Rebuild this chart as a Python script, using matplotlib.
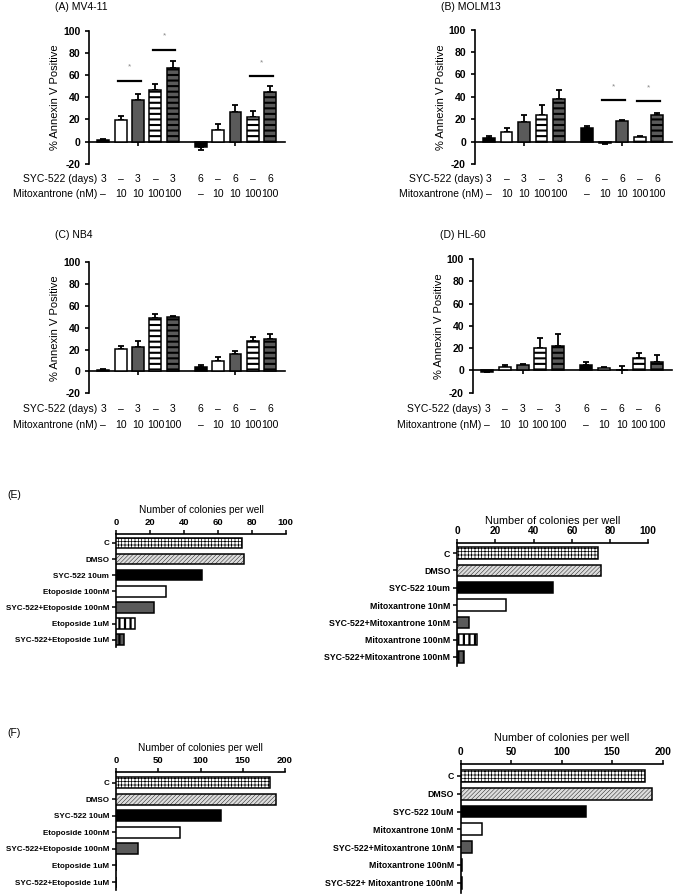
import matplotlib.pyplot as plt
from matplotlib.transforms import blended_transform_factory

plt.rcParams['font.family'] = ['Liberation Sans', 'DejaVu Sans']
plt.rcParams['hatch.linewidth'] = 1.0
plt.rcParams['axes.unicode_minus'] = False

W, H = 674, 896

# Annexin V panels: 10 conditions each
days = ["3", "–", "3", "–", "3", "6", "–", "6", "–", "6"]
mitox = ["–", "10", "10", "100", "100", "–", "10", "10", "100", "100"]

mv4_mean = [1.5, 19.5, 37.5, 46.5, 66, -4.5, 10.5, 27, 22.5, 44.5]
mv4_err = [1, 4, 5, 5, 6.5, 3, 5.5, 6, 5.5, 6]
molm_mean = [3.5, 8.5, 17.5, 24, 38, 12, -1, 18.5, 4, 24]
molm_err = [1.5, 3.5, 6, 8.5, 8, 1.5, 1, 1, 1, 1.5]
nb4_mean = [1.5, 20.5, 22, 49, 49.5, 4.5, 10, 16, 28, 29.5]
nb4_err = [1, 3, 5.5, 3.5, 1.5, 1, 3.5, 3, 3.5, 4.5]
hl60_mean = [-1, 3.5, 4.5, 20.5, 22, 5, 2.5, 0.5, 11, 8]
hl60_err = [0.5, 1, 1.5, 8.5, 11, 3, 1, 3.5, 4.5, 6]

# significance marks: (first bar, last bar, line height)
mv4_sig = [(1, 2, 55), (3, 4, 83), (8, 9, 59)]
molm_sig = [(6, 7, 37), (8, 9, 36)]

# colony assays
eto_labels_e = ["C", "DMSO", "SYC-522 10um", "Etoposide 100nM", "SYC-522+Etoposide 100nM",
                "Etoposide 1uM", "SYC-522+Etoposide 1uM"]
eto_vals_e = [74.5, 75.4, 50.5, 29.3, 22.4, 11.4, 4.5]
mito_labels_e = ["C", "DMSO", "SYC-522 10um", "Mitoxantrone 10nM", "SYC-522+Mitoxantrone 10nM",
                 "Mitoxantrone 100nM", "SYC-522+Mitoxantrone 100nM"]
mito_vals_e = [73.8, 75.2, 50.3, 25.3, 6.3, 10.2, 3.5]
eto_labels_f = ["C", "DMSO", "SYC-522 10uM", "Etoposide 100nM", "SYC-522+Etoposide 100nM",
                "Etoposide 1uM", "SYC-522+Etoposide 1uM"]
eto_vals_f = [182, 189, 124, 75.7, 26.4, 0.5, 0.5]
mito_labels_f = ["C", "DMSO", "SYC-522 10uM", "Mitoxantrone 10nM", "SYC-522+Mitoxantrone 10nM",
                 "Mitoxantrone 100nM", "SYC-522+ Mitoxantrone 100nM"]
mito_vals_f = [182.5, 189.8, 124, 20.8, 11.2, 1, 1]

fig = plt.figure(figsize=(W / 100, H / 100), dpi=100)

DARK = '#5a5a5a'
pos = [0, 1, 2, 3, 4, 5.6, 6.6, 7.6, 8.6, 9.6]


def px_axes(left, top, right, bottom):
    return fig.add_axes([left / W, 1 - bottom / H, (right - left) / W, (bottom - top) / H])


def set_hlw(patches, w):
    for p in patches:
        try:
            p.set_hatch_linewidth(w)
        except AttributeError:
            pass


def annexin(box, means, errs, title, title_xy, rows_y, sig=()):
    ax = px_axes(*box)
    faces = ['black', 'white', DARK, 'white', DARK] * 2
    hatches = ['', '', '', '---', '---'] * 2
    bars = ax.bar(pos, means, width=0.68, color=faces, edgecolor='black',
                  linewidth=1.1, hatch=hatches, zorder=3)
    set_hlw(bars, 1.5)
    lo = [e if m < 0 else 0 for m, e in zip(means, errs)]
    hi = [0 if m < 0 else e for m, e in zip(means, errs)]
    ax.errorbar(pos, means, yerr=[lo, hi], fmt='none', ecolor='black',
                elinewidth=1.3, capsize=2.5, capthick=1.3, zorder=2)
    for i, j, y in sig:
        ax.plot([pos[i] - 0.15, pos[j] + 0.15], [y, y], color='black', lw=1.6)
        ax.text((pos[i] + pos[j]) / 2, y + 12, '*', ha='center', va='center',
                fontsize=6, color='#888888')
    ax.set_xlim(-0.8, 10.45)
    ax.set_ylim(-20, 100)
    for s in ['top', 'right']:
        ax.spines[s].set_visible(False)
    ax.spines['bottom'].set_position(('data', 0))
    ax.spines['bottom'].set_linewidth(1.2)
    ax.spines['left'].set_linewidth(1.2)
    ax.set_xticks([pos[2], pos[7]])
    ax.set_xticklabels([])
    ax.set_yticks(range(-20, 101, 20))
    ax.tick_params(axis='both', direction='out', length=3, width=1.2, labelsize=7.5)
    for t in ax.get_yticklabels():
        t.set_fontweight('bold')
    ax.set_ylabel('% Annexin V Positive', fontsize=8, labelpad=2)
    tr = blended_transform_factory(ax.transData, fig.transFigure)
    y1, y2 = 1 - rows_y[0] / H, 1 - rows_y[1] / H
    ax.text(-0.35, y1, 'SYC-522 (days)', transform=tr, ha='right', va='center', fontsize=7.5)
    ax.text(-0.35, y2, 'Mitoxantrone (nM)', transform=tr, ha='right', va='center', fontsize=7.5)
    for x, a, b in zip(pos, days, mitox):
        ax.text(x, y1, a, transform=tr, ha='center', va='center', fontsize=7.5)
        ax.text(x, y2, b, transform=tr, ha='center', va='center', fontsize=7.5)
    fig.text(title_xy[0] / W, 1 - title_xy[1] / H, title, ha='left', va='center', fontsize=7.5)
    return ax


def colony(box, labels, vals, xmax, step, ylim, title_xy, fs):
    ax = px_axes(*box)
    faces = ['white', '#dddddd', 'black', 'white', DARK, 'white', DARK]
    hatches = ['+++++', '////////', '', '', '', '|||', '|||']
    y = list(range(len(vals)))
    bars = ax.barh(y, vals, height=0.66, color=faces, edgecolor='black',
                   linewidth=1.1, hatch=hatches, zorder=3)
    set_hlw(bars[:1], 0.5)
    set_hlw(bars[1:2], 0.3)
    set_hlw(bars[5:], 1.6)
    ax.set_xlim(0, xmax)
    ax.set_ylim(*ylim)
    ax.xaxis.tick_top()
    ax.set_xticks(range(0, xmax + 1, step))
    ax.set_yticks(y)
    ax.set_yticklabels(labels)
    for s in ['bottom', 'right']:
        ax.spines[s].set_visible(False)
    for s in ['top', 'left']:
        ax.spines[s].set_linewidth(1.2)
    ax.tick_params(axis='both', direction='out', length=3, width=1.1, pad=2)
    ax.tick_params(axis='x', labelsize=fs)
    ax.tick_params(axis='y', labelsize=fs - 1.0)
    for t in ax.get_xticklabels() + ax.get_yticklabels():
        t.set_fontweight('bold')
    fig.text(title_xy[0] / W, 1 - title_xy[1] / H, 'Number of colonies per well',
             ha='center', va='center', fontsize=fs + 0.5)
    return ax


annexin((89.3, 30.7, 285, 163.8), mv4_mean, mv4_err, '(A) MV4-11', (55, 7), (179, 194), mv4_sig)
annexin((475, 29.5, 672, 164), molm_mean, molm_err, '(B) MOLM13', (441, 7), (179, 194), molm_sig)
annexin((89.3, 262.3, 285, 393.3), nb4_mean, nb4_err, '(C) NB4', (55, 235), (409, 425))
annexin((473, 259, 672, 392.7), hl60_mean, hl60_err, '(D) HL-60', (440, 235), (409, 425))

fig.text(7 / W, 1 - 495 / H, '(E)', ha='left', va='center', fontsize=7.5)
fig.text(7 / W, 1 - 733 / H, '(F)', ha='left', va='center', fontsize=7.5)

colony((116, 534, 285.7, 647), eto_labels_e, eto_vals_e, 100, 20, (6.45, -0.55), (201, 510), 6.8)
colony((457.3, 543, 648.3, 666), mito_labels_e, mito_vals_e, 100, 20, (6.52, -0.58), (553, 520.7), 7.3)
colony((116, 771.7, 285, 890), eto_labels_f, eto_vals_f, 200, 50, (6.48, -0.66), (200, 747.7), 6.8)
colony((460.7, 764, 662.7, 893), mito_labels_f, mito_vals_f, 200, 50, (6.58, -0.67), (562, 738), 7.3)

fig.savefig('out.png', dpi=100)
